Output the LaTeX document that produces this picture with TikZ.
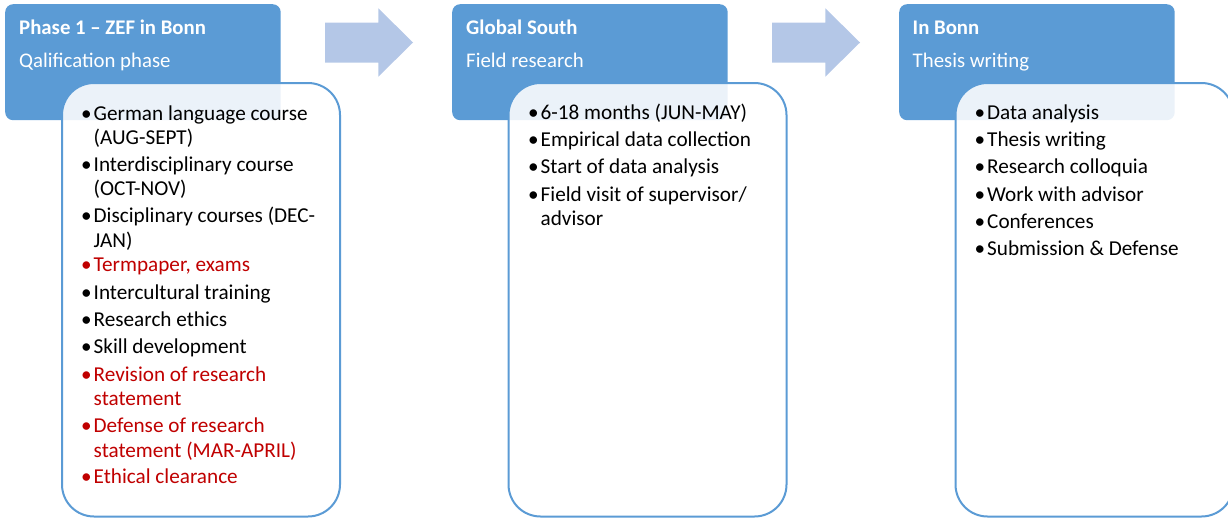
\documentclass[tikz,border=0pt]{standalone}
\usepackage{fontspec}
\setmainfont{Carlito}
\definecolor{hblue}{HTML}{5B9BD5}
\definecolor{ablue}{HTML}{B4C7E7}
\definecolor{dred}{HTML}{C00000}
\newcommand\bitem[1]{\parbox[t]{250pt}{\raggedright\leavevmode\llap{\textbullet\hspace{2pt}}#1}}
\begin{document}
\begin{tikzpicture}[x=1pt,y=-1pt,
 hdr/.style={fill=hblue, rounded corners=8pt, minimum width=275.5pt, minimum height=116pt, anchor=north west, inner sep=0pt},
 body/.style={draw=hblue, line width=2pt, fill=white, fill opacity=0.88, draw opacity=1, rounded corners=32pt, minimum width=278pt, minimum height=433.5pt, anchor=north west, inner sep=0pt},
 ttl/.style={anchor=base west, inner sep=0pt, text=white, font=\fontsize{20.8}{25}\selectfont\bfseries},
 sub/.style={anchor=base west, inner sep=0pt, text=white, font=\fontsize{20.8}{25}\selectfont},
 itm/.style={anchor=base west, inner sep=0pt, font=\fontsize{21.2}{24.5}\selectfont},
 hl/.style={text=dred},
 stagearrow/.style={fill=ablue}]
\useasboundingbox (0,0) rectangle (1228,517);
\clip (0,0) rectangle (1228,517);
% arrows
\fill[stagearrow] (325,22.7) -- (378.3,22.7) -- (378.3,8.3) -- (413,42.5) -- (378.3,76.7) -- (378.3,62.7) -- (325,62.7) -- cycle;
\fill[stagearrow] (772,22.7) -- (825.3,22.7) -- (825.3,8.3) -- (860,42.5) -- (825.3,76.7) -- (825.3,62.7) -- (772,62.7) -- cycle;
% stage 1
\node[hdr] (h1) at (5,4) {};
\node[body] (b1) at (61,82) {};
\node[ttl] (t1) at (19,34) {Phase 1 – ZEF in Bonn};
\node[sub] (s1) at (19,67) {Qalification phase};
\node[itm] (i11) at (93.5,120) {\bitem{German language course\\(AUG-SEPT)}};
\node[itm] (i12) at (93.5,171) {\bitem{Interdisciplinary course\\(OCT-NOV)}};
\node[itm] (i13) at (93.5,222.5) {\bitem{Disciplinary courses (DEC-\\JAN)}};
\node[itm,hl] (i14) at (93.5,271.5) {\bitem{Termpaper, exams}};
\node[itm] (i15) at (93.5,299) {\bitem{Intercultural training}};
\node[itm] (i16) at (93.5,326) {\bitem{Research ethics}};
\node[itm] (i17) at (93.5,353.5) {\bitem{Skill development}};
\node[itm,hl] (i18) at (93.5,381) {\bitem{Revision of research\\statement}};
\node[itm,hl] (i19) at (93.5,432.5) {\bitem{Defense of research\\statement (MAR-APRIL)}};
\node[itm,hl] (i110) at (93.5,483.5) {\bitem{Ethical clearance}};
% stage 2
\node[hdr] (h2) at (452,4) {};
\node[body] (b2) at (507.5,82) {};
\node[ttl] (t2) at (466,34) {Global South};
\node[sub] (s2) at (466,67) {Field research};
\node[itm] (i21) at (540.5,119.3) {\bitem{6-18 months (JUN-MAY)}};
\node[itm] (i22) at (540.5,146.6) {\bitem{Empirical data collection}};
\node[itm] (i23) at (540.5,173.9) {\bitem{Start of data analysis}};
\node[itm] (i24) at (540.5,201.2) {\bitem{Field visit of supervisor/\\advisor}};
% stage 3
\node[hdr] (h3) at (899,4) {};
\node[body] (b3) at (954.5,82) {};
\node[ttl] (t3) at (912.5,34) {In Bonn};
\node[sub] (s3) at (912.5,67) {Thesis writing};
\node[itm] (i31) at (987,119.3) {\bitem{Data analysis}};
\node[itm] (i32) at (987,146.6) {\bitem{Thesis writing}};
\node[itm] (i33) at (987,173.9) {\bitem{Research colloquia}};
\node[itm] (i34) at (987,201.2) {\bitem{Work with advisor}};
\node[itm] (i35) at (987,228.5) {\bitem{Conferences}};
\node[itm] (i36) at (987,255.8) {\bitem{Submission \& Defense}};
\end{tikzpicture}
\end{document}
